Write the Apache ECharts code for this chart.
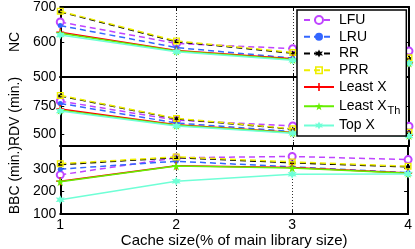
<!DOCTYPE html>
<html><head><meta charset="utf-8">
<script src="https://cdn.jsdelivr.net/npm/echarts@6/dist/echarts.min.js"></script>
<style>html,body{margin:0;padding:0;background:#fff}#c{width:415px;height:249px}</style>
</head><body><div id="c"></div>
<script>
var xs = [1, 2, 3, 4];
var seriesNames = ['LFU', 'LRU', 'RR', 'PRR', 'Least X', 'Least XTh', 'Top X'];
// NC panel
var ncLFU = [657, 596, 581, 574];
var ncLRU = [647, 584, 554, 546];
var ncRR = [686, 601, 568, 553];
var ncPRR = [688, 603, 570, 555];
var ncLeastX = [628, 576, 552, 541];
var ncLeastXTh = [625, 574, 550, 540];
var ncTopX = [620, 572, 548, 539];
// RDV panel
var rdvLFU = [790, 625, 575, 572];
var rdvLRU = [770, 600, 525, 500];
var rdvRR = [835, 636, 546, 516];
var rdvPRR = [840, 640, 550, 520];
var rdvLeastX = [722, 585, 518, 494];
var rdvLeastXTh = [712, 580, 515, 492];
var rdvTopX = [705, 574, 510, 488];
// BBC panel
var bbcLFU = [273, 348, 354, 340];
var bbcLRU = [298, 333, 308, 283];
var bbcRR = [318, 349, 326, 308];
var bbcPRR = [322, 352, 330, 311];
var bbcLeastX = [245, 313, 305, 281];
var bbcLeastXTh = [243, 312, 303, 280];
var bbcTopX = [163, 245, 276, 277];
// axes
var panelNames = ['NC', 'RDV (min.)', 'BBC (min.)'];
var panelMin = [500, 400, 100];
var panelMax = [700, 1000, 400];
var panelLabels = [[500, 600, 700], [500, 750], [100, 200, 300]];
var panelTicks = [[500, 600, 700], [500, 750, 1000], [100, 200, 300, 400]];
var xName = 'Cache size(% of main library size)';

var panelData = [
  [ncLFU, ncLRU, ncRR, ncPRR, ncLeastX, ncLeastXTh, ncTopX],
  [rdvLFU, rdvLRU, rdvRR, rdvPRR, rdvLeastX, rdvLeastXTh, rdvTopX],
  [bbcLFU, bbcLRU, bbcRR, bbcPRR, bbcLeastX, bbcLeastXTh, bbcTopX]
];

var FONT = 'Liberation Sans, Arial, Helvetica, sans-serif';
var styles = [
  {color: '#bf44ff', dash: [6, 4], symbol: 'emptyCircle', size: 7},
  {color: '#3366ff', dash: [6, 4], symbol: 'circle', size: 5},
  {color: '#000000', dash: [6, 4], symbol: 'path://M50,0 L62,28 L93,25 L75,50 L93,75 L62,72 L50,100 L38,72 L7,75 L25,50 L7,25 L38,28 Z', size: 6},
  {color: '#eeee00', dash: [6, 4], symbol: 'path://M0,0 L10,0 L10,10 L0,10 Z M2,2 L2,8 L8,8 L8,2 Z', size: 7},
  {color: '#ff0000', dash: 'solid', symbol: 'path://M4,0 L6,0 L6,4 L10,4 L10,6 L6,6 L6,10 L4,10 L4,6 L0,6 L0,4 L4,4 Z', size: 8},
  {color: '#66ee00', dash: 'solid', symbol: 'path://M50,0 L61,35 L98,35 L68,57 L79,91 L50,70 L21,91 L32,57 L2,35 L39,35 Z', size: 9},
  {color: '#6fffd6', dash: 'solid', symbol: 'path://M50,0 L62,28 L93,25 L75,50 L93,75 L62,72 L50,100 L38,72 L7,75 L25,50 L7,25 L38,28 Z', size: 9}
];

var tops = [6, 77, 146];
var heights = [71, 69, 70];
var grids = [], xAxes = [], yAxes = [], series = [];
var axisLine = {show: true, onZero: false, lineStyle: {color: '#000', width: 2}};
for (var p = 0; p < 3; p++) {
  grids.push({left: 50, right: 6, top: tops[p], height: heights[p]});
  var last = p === 2;
  xAxes.push({
    type: 'value', gridIndex: p, position: 'bottom', min: 1, max: 4, interval: 1,
    axisLine: axisLine,
    axisTick: {show: true, inside: true, length: 4, lineStyle: {color: '#000', width: 1}},
    axisLabel: {show: last, color: '#000', fontSize: 14, fontFamily: FONT, margin: 4},
    splitLine: {show: true, lineStyle: {color: '#333', width: 1, type: [1, 2]}},
    name: last ? xName : '', nameLocation: 'middle', nameGap: 16,
    nameTextStyle: {color: '#000', fontSize: 15, fontFamily: FONT}
  });
  xAxes.push({
    type: 'value', gridIndex: p, position: 'top', min: 1, max: 4, interval: 1,
    axisLine: axisLine,
    axisTick: {show: true, inside: true, length: 4, lineStyle: {color: '#000', width: 1}},
    axisLabel: {show: false}, splitLine: {show: false}
  });
  yAxes.push({
    type: 'value', gridIndex: p, position: 'left', min: panelMin[p], max: panelMax[p],
    axisLine: axisLine,
    axisTick: {show: true, inside: true, length: 4, customValues: panelTicks[p], lineStyle: {color: '#000', width: 1}},
    axisLabel: {show: true, customValues: panelLabels[p], color: '#000', fontSize: 14, fontFamily: FONT, margin: 4},
    splitLine: {show: false},
    name: panelNames[p], nameLocation: 'middle', nameRotate: 90, nameGap: 35,
    nameTextStyle: {color: '#000', fontSize: 14, fontFamily: FONT}
  });
  yAxes.push({
    type: 'value', gridIndex: p, position: 'right', min: panelMin[p], max: panelMax[p],
    axisLine: axisLine,
    axisTick: {show: true, inside: true, length: 4, customValues: panelTicks[p], lineStyle: {color: '#000', width: 1}},
    axisLabel: {show: false}, splitLine: {show: false}
  });
  for (var s = 0; s < 7; s++) {
    var st = styles[s];
    var vals = panelData[p][s];
    series.push({
      type: 'line', name: seriesNames[s], xAxisIndex: 2 * p, yAxisIndex: 2 * p,
      data: xs.map(function (x, i) { return [x, vals[i]]; }),
      symbol: st.symbol, symbolSize: st.size, showAllSymbol: true,
      lineStyle: {color: st.color, width: 1.5, type: st.dash},
      itemStyle: {color: st.color, borderWidth: 1.5},
      z: 2 + s, animation: false, silent: true
    });
  }
}

var chart = echarts.init(document.getElementById('c'), null, {renderer: 'canvas'});
chart.setOption({
  animation: false,
  backgroundColor: '#fff',
  grid: grids, xAxis: xAxes, yAxis: yAxes, series: series,
  legend: {
    orient: 'vertical', left: 297, top: 10, z: 20,
    padding: [2, 6, 2.5, 6], itemGap: 0.75, itemWidth: 30, itemHeight: 10,
    backgroundColor: '#fff', borderColor: '#000', borderWidth: 1.5,
    data: seriesNames,
    formatter: function (name) { return name === 'Least XTh' ? '{m|Least X}{s|Th}' : name; },
    textStyle: {color: '#000', fontSize: 14, lineHeight: 16, fontFamily: FONT,
      rich: {m: {fontSize: 14, lineHeight: 16, fontFamily: FONT, color: '#000'},
             s: {fontSize: 11, lineHeight: 12, fontFamily: FONT, color: '#000', padding: [10, 0, 0, 1]}}},
    selectedMode: false
  }
});
</script></body></html>
